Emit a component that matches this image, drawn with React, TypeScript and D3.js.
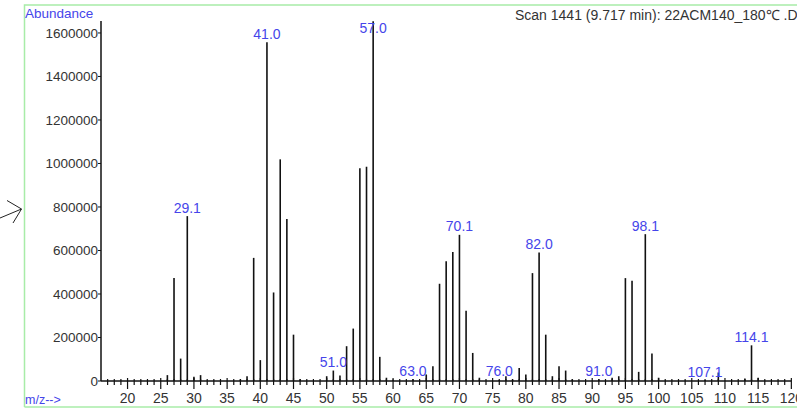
import React from "react";
import * as d3 from "d3";

// m/z and abundance of each peak
const mzValues = [
  26, 27, 28, 29, 30, 31, 37, 38, 39, 40, 41, 42, 43, 44, 45, 46, 50, 51, 52, 53,
  54, 55, 56, 57, 58, 59, 60, 63, 65, 66, 67, 68, 69, 70, 71, 72, 73, 76, 77, 78,
  79, 80, 81, 82, 83, 84, 85, 86, 87, 91, 93, 94, 95, 96, 97, 98, 99, 100, 107,
  109, 113, 114, 115,
];
const abundances = [
  27000, 473000, 103000, 758000, 19000, 27000, 7000, 22000, 566000, 96000,
  1557000, 407000, 1019000, 745000, 213000, 8000, 22000, 48000, 25000, 160000,
  241000, 978000, 985000, 1654000, 111000, 15000, 7000, 8000, 30000, 68000,
  447000, 550000, 593000, 672000, 323000, 129000, 15000, 5000, 22000, 7000,
  60000, 30000, 496000, 591000, 213000, 22000, 68000, 48000, 7000, 8000, 15000,
  22000, 473000, 461000, 42000, 675000, 126000, 15000, 4000, 39000, 11000,
  164000, 15000,
];

// annotated peaks
const labelMz = [29, 41, 51, 57, 63, 70, 76, 82, 91, 98, 107, 114];
const labelText = ["29.1", "41.0", "51.0", "57.0", "63.0", "70.1", "76.0", "82.0", "91.0", "98.1", "107.1", "114.1"];

const yTicks = [0, 200000, 400000, 600000, 800000, 1000000, 1200000, 1400000, 1600000];
const xMajorTicks = d3.range(20, 121, 5);
const xMinorTicks = d3.range(17, 121, 1);

const W = 812;
const H = 409;
const FONT = "'Liberation Sans', Arial, sans-serif";
const BLUE = "#4545ea";

export default function App() {
  const x = d3.scaleLinear().domain([16, 120.4]).range([101, 794]);
  const y = d3.scaleLinear().domain([0, 1655000]).range([381, 21]);
  const peaks = mzValues.map((m, i) => ({ m, v: abundances[i] }));
  const valueOf = (m: number) => peaks.find((p) => p.m === m)?.v ?? 0;

  return (
    <svg
      width={W}
      height={H}
      style={{ position: "absolute", left: 0, top: 0, background: "#fff" }}
      fontFamily={FONT}
    >
      <defs>
        <clipPath id="cut">
          <rect x={0} y={0} width={797} height={H} />
        </clipPath>
      </defs>

      {/* hand drawn arrow at the left */}
      <g stroke="#222" strokeWidth={1} fill="none">
        <path d="M0,218 L21.5,209" />
        <path d="M7,200.5 L21.5,209 L13,223" />
      </g>

      <g clipPath="url(#cut)">
        {/* frame */}
        <path d="M24.5,407 L24.5,5 L800,5" stroke="#a8eca8" strokeWidth={1.5} fill="none" />
        <path d="M24.5,407 L800,407" stroke="#a8eca8" strokeWidth={1.5} fill="none" />

        <text x={25} y={17.5} fontSize={13.5} fill={BLUE}>Abundance</text>
        <text x={25} y={404} fontSize={12.5} fill={BLUE}>m/z--&gt;</text>
        <text x={515} y={20} fontSize={14} fill="#333">
          Scan 1441 (9.717 min): 22ACM140_180℃ .D
        </text>

        {/* y axis */}
        <line x1={101} x2={101} y1={y(0)} y2={y(1655000)} stroke="#111" strokeWidth={1.5} />
        {yTicks.map((t) => (
          <g key={t}>
            <line x1={98} x2={101} y1={y(t)} y2={y(t)} stroke="#111" strokeWidth={1} />
            <text x={98} y={y(t)} dy="0.35em" textAnchor="end" fontSize={13.5} fill="#333">
              {t}
            </text>
          </g>
        ))}

        {/* x axis */}
        <line x1={101} x2={x(120)} y1={y(0)} y2={y(0)} stroke="#111" strokeWidth={1.5} />
        {xMinorTicks.map((t) => {
          const major = t % 5 === 0;
          return (
            <line
              key={t}
              x1={x(t)}
              x2={x(t)}
              y1={y(0) - (major ? 3 : 2)}
              y2={y(0) + (major ? 8 : 4)}
              stroke="#111"
              strokeWidth={1.2}
            />
          );
        })}
        {xMajorTicks.map((t) => (
          <text key={t} x={x(t)} y={402.5} textAnchor="middle" fontSize={14} fill="#333">
            {t}
          </text>
        ))}

        {/* peaks */}
        {peaks.map((p) => (
          <line
            key={p.m}
            x1={x(p.m)}
            x2={x(p.m)}
            y1={y(0)}
            y2={y(p.v)}
            stroke="#111"
            strokeWidth={1.6}
          />
        ))}

        {labelMz.map((m, i) => (
          <text
            key={m}
            x={x(m)}
            y={Math.max(y(valueOf(m)) - 3.5, 33)}
            textAnchor="middle"
            fontSize={14}
            fill={BLUE}
          >
            {labelText[i]}
          </text>
        ))}
      </g>
    </svg>
  );
}
